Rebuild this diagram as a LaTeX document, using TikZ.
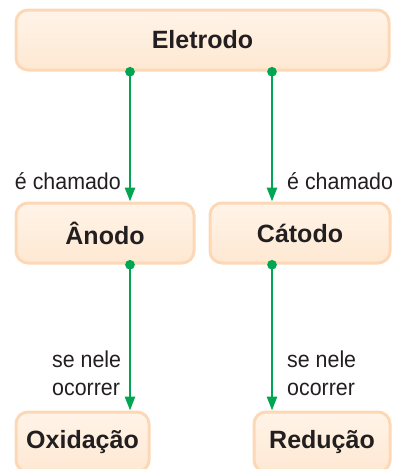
\documentclass[tikz,border=0pt]{standalone}
\usepackage{fontspec}
\setmainfont{Liberation Sans}
\newfontfamily\labelfont[FakeStretch=0.93]{Liberation Sans}
\usetikzlibrary{arrows.meta}
\definecolor{boxfill}{RGB}{255,244,232}
\definecolor{boxlow}{RGB}{254,232,210}
\definecolor{boxedge}{RGB}{252,216,182}
\definecolor{linkgreen}{RGB}{0,166,81}
\definecolor{textgray}{RGB}{35,31,32}

\begin{document}
\begin{tikzpicture}[x=1pt,y=-1pt,
  main box/.style={draw=boxedge,top color=boxfill,bottom color=boxlow,
    line width=3pt,rounded corners=12pt,
    minimum height=60pt,inner sep=0pt,text=textgray,
    font=\bfseries\fontsize{25}{30}\selectfont},
  link/.style={draw=linkgreen,line width=2.6pt,shorten <=-4.5pt,
    {Circle[length=9.5pt]}-{Triangle[length=14pt,width=10pt]}},
  link label/.style={text=textgray,inner sep=0pt,align=left,
    font=\labelfont\fontsize{23}{28}\selectfont}]

\useasboundingbox (0,0) rectangle (395,469);

\node at (202.5,40) [main box,minimum width=373pt] (eletrodo) {Eletrodo};
\node at (105,233) [main box,minimum width=178pt] (anodo) {Ânodo};
\node at (300,233) [main box,minimum width=180pt] (catodo) {Cátodo};
\node at (82.5,442) [main box,minimum width=133pt] (oxidacao) {Oxidação};
\node at (322,442) [main box,minimum width=136pt] (reducao) {Redução};

\coordinate (left) at (130,0);
\coordinate (right) at (272,0);

\draw[link] (eletrodo.south -| left) -- (anodo.north -| left);
\draw[link] (eletrodo.south -| right) -- (catodo.north -| right);
\draw[link] (anodo.south -| left) -- (oxidacao.north -| left);
\draw[link] (catodo.south -| right) -- (reducao.north -| right);

\node at (121,181) [link label,anchor=east] (chamado1) {é chamado};
\node at (287,181) [link label,anchor=west] (chamado2) {é chamado};
\node at (52,373) [link label,anchor=west] (ocorrer1) {se nele\\ocorrer};
\node at (287,373) [link label,anchor=west] (ocorrer2) {se nele\\ocorrer};
\end{tikzpicture}
\end{document}
